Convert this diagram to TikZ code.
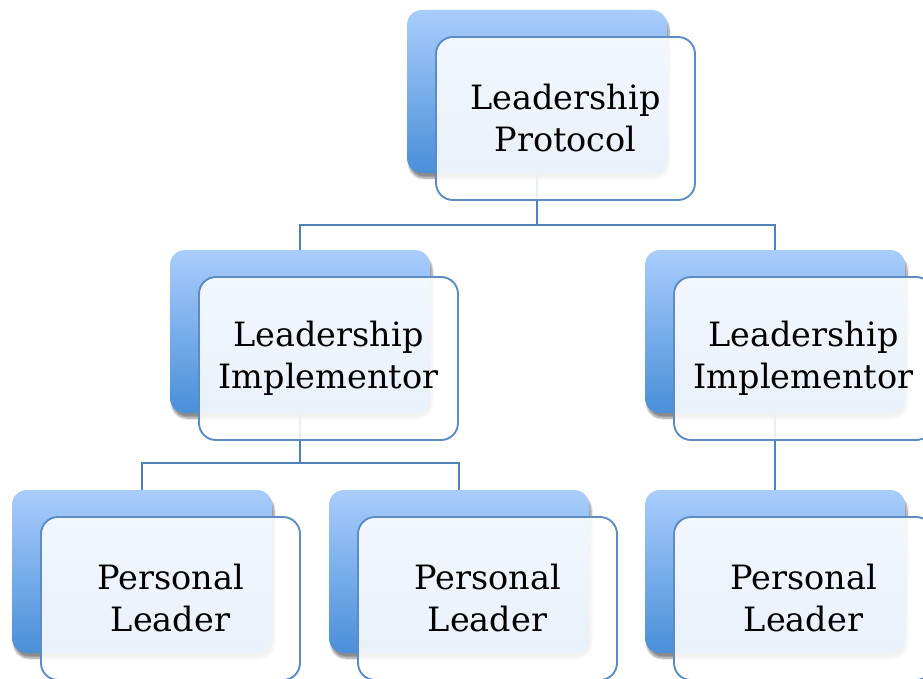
\documentclass[tikz,border=0pt]{standalone}
\usepackage{fontspec}
\setmainfont{DejaVu Serif}
\usetikzlibrary{shadows.blur}
\definecolor{backtop}{HTML}{A9CDFC}
\definecolor{backbot}{HTML}{4A8FD9}
\definecolor{edgeblue}{HTML}{5B8CC6}
\definecolor{linkblue}{HTML}{4F80BC}
\tikzset{
  backbox/.style={rounded corners=15pt, minimum width=260pt, minimum height=163pt,
    inner sep=0pt, draw=none, top color=backtop, bottom color=backbot,
    blur shadow={shadow xshift=2pt, shadow yshift=-5pt, shadow blur steps=8, shadow opacity=45}},
  frontbox/.style={rounded corners=17pt, minimum width=259pt, minimum height=163pt,
    inner sep=0pt, draw=edgeblue, line width=1.9pt, fill=white, fill opacity=0.88,
    text opacity=1, align=center, font=\fontsize{33.5}{42}\selectfont},
  link/.style={draw=linkblue, line width=1.9pt}
}
\begin{document}
\begin{tikzpicture}[x=1pt,y=-1pt]
\useasboundingbox (0,0) rectangle (923,679);
\clip (0,0) rectangle (923,679);
% back tiles
\node[backbox] (pB)  at (537,91.5) {};
\node[backbox] (iB1) at (300,331.5) {};
\node[backbox] (iB2) at (775,331.5) {};
\node[backbox] (lB1) at (142,571.5) {};
\node[backbox] (lB2) at (459,571.5) {};
\node[backbox] (lB3) at (775,571.5) {};
% hierarchy links
\draw[link] (pB.south) -- ++(0,52) -| (iB1.north);
\draw[link] (pB.south) -- ++(0,52) -| (iB2.north);
\draw[link] (iB1.south) -- ++(0,50) -| (lB1.north);
\draw[link] (iB1.south) -- ++(0,50) -| (lB2.north);
\draw[link] (iB2.south) -- (lB3.north);
% front cards with labels
\node[frontbox] (pF)  at (565.5,118.5) {Leadership\\Protocol};
\node[frontbox] (iF1) at (328.5,358.5) {Leadership\\Implementor};
\node[frontbox] (iF2) at (803.5,358.5) {Leadership\\Implementor};
\node[frontbox] (lF1) at (170.5,598.5) {Personal\\Leader};
\node[frontbox] (lF2) at (487.5,598.5) {Personal\\Leader};
\node[frontbox] (lF3) at (803.5,598.5) {Personal\\Leader};
\end{tikzpicture}
\end{document}
